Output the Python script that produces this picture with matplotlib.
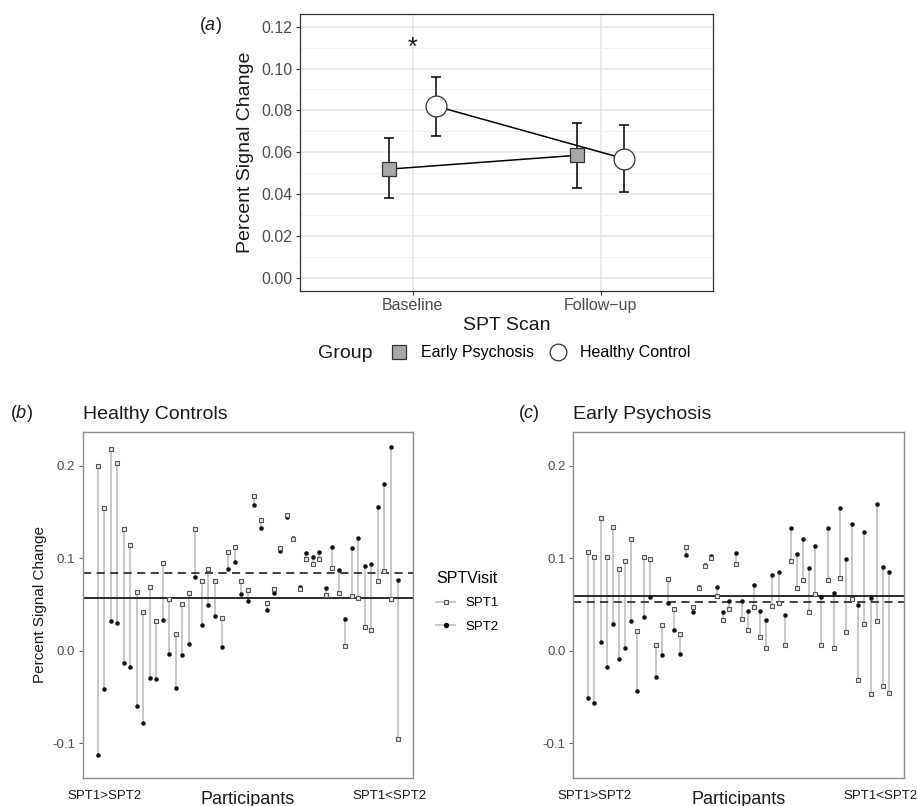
import numpy as np
import matplotlib

matplotlib.use("Agg")
import matplotlib.pyplot as plt
from matplotlib.lines import Line2D

plt.rcParams["font.family"] = ["Liberation Sans", "DejaVu Sans"]
plt.rcParams["mathtext.fontset"] = "custom"
plt.rcParams["mathtext.rm"] = "Liberation Sans"
plt.rcParams["mathtext.it"] = "Liberation Sans:italic"

# ---- panel (a): group means with error bars ----
scans = ["Baseline", "Follow\u2212up"]
ep_mean = [0.052, 0.0586]
ep_lo = [0.038, 0.043]
ep_hi = [0.067, 0.074]
hc_mean = [0.082, 0.057]
hc_lo = [0.068, 0.041]
hc_hi = [0.096, 0.073]

# ---- panels (b), (c): per-participant values, sorted by SPT1-SPT2 ----
hc_spt1 = [0.200, 0.154, 0.218, 0.203, 0.132, 0.114, 0.064, 0.042, 0.069, 0.032,
           0.095, 0.056, 0.018, 0.051, 0.063, 0.132, 0.076, 0.088, 0.075, 0.035,
           0.107, 0.112, 0.076, 0.066, 0.167, 0.141, 0.052, 0.067, 0.111, 0.147,
           0.121, 0.067, 0.099, 0.094, 0.099, 0.060, 0.090, 0.063, 0.005, 0.059,
           0.057, 0.026, 0.022, 0.076, 0.086, 0.056, -0.095]
hc_spt2 = [-0.113, -0.041, 0.032, 0.030, -0.013, -0.018, -0.060, -0.078, -0.029, -0.031,
           0.033, -0.003, -0.040, -0.005, 0.007, 0.080, 0.028, 0.050, 0.038, 0.004,
           0.089, 0.096, 0.062, 0.054, 0.158, 0.133, 0.044, 0.063, 0.108, 0.145,
           0.122, 0.069, 0.106, 0.102, 0.107, 0.068, 0.112, 0.087, 0.034, 0.111,
           0.122, 0.092, 0.094, 0.156, 0.180, 0.220, 0.077]
ep_spt1 = [0.107, 0.101, 0.144, 0.102, 0.134, 0.088, 0.097, 0.121, 0.021, 0.101,
           0.099, 0.006, 0.028, 0.078, 0.045, 0.018, 0.112, 0.047, 0.068, 0.092,
           0.100, 0.059, 0.033, 0.045, 0.094, 0.034, 0.023, 0.047, 0.015, 0.003,
           0.049, 0.052, 0.006, 0.097, 0.068, 0.077, 0.042, 0.062, 0.006, 0.077,
           0.003, 0.079, 0.020, 0.056, -0.032, 0.029, -0.047, 0.032, -0.038, -0.046]
ep_spt2 = [-0.051, -0.056, 0.010, -0.018, 0.029, -0.009, 0.003, 0.032, -0.043, 0.037,
           0.058, -0.028, -0.004, 0.052, 0.023, -0.003, 0.104, 0.042, 0.069, 0.093,
           0.103, 0.069, 0.042, 0.054, 0.106, 0.054, 0.043, 0.071, 0.043, 0.033,
           0.082, 0.085, 0.039, 0.133, 0.105, 0.121, 0.090, 0.113, 0.058, 0.133,
           0.063, 0.155, 0.099, 0.137, 0.050, 0.128, 0.057, 0.159, 0.091, 0.085]

W, H = 917, 806
TXT = "#1a1a1a"
TICK = "#4d4d4d"
SEG = "#c4c4c4"
SQ_MS, DOT_MS = 3.3, 2.9


def fx(px):
    return px / W


def fy(py):
    return 1 - py / H


fig = plt.figure(figsize=(W / 100, H / 100), dpi=100)
fig.patch.set_facecolor("white")

# ================= panel (a) =================
ax = fig.add_axes([fx(300), fy(290.7), fx(713.3) - fx(300), fy(14) - fy(290.7)])
ax.set_xlim(0.4, 2.6)
ax.set_ylim(-0.006, 0.126)
ax.set_yticks(np.arange(0, 0.121, 0.02))
ax.set_yticks(np.arange(0.01, 0.121, 0.02), minor=True)
ax.set_yticklabels([f"{v:.2f}" for v in np.arange(0, 0.121, 0.02)])
ax.set_xticks([1, 2])
ax.set_xticklabels(scans)
ax.grid(True, which="major", color="#e6e6e6", lw=1.1, zorder=0)
ax.grid(True, which="minor", axis="y", color="#efefef", lw=0.6, zorder=0)
ax.set_axisbelow(True)
for s in ax.spines.values():
    s.set_color("#333333")
    s.set_linewidth(0.9)
ax.tick_params(which="major", length=3, width=0.8, color="#333333", pad=2.5,
               labelsize=11.5, labelcolor=TICK)
ax.tick_params(which="minor", length=0)

xpos = np.arange(len(scans)) + 1
dodge = 0.125
for xs, m, lo, hi, mk, ms, fc in [
        (xpos - dodge, ep_mean, ep_lo, ep_hi, "s", 10, "#a8a8a8"),
        (xpos + dodge, hc_mean, hc_lo, hc_hi, "o", 15, "white")]:
    m = np.array(m)
    err = [m - np.array(lo), np.array(hi) - m]
    ax.errorbar(xs, m, yerr=err, fmt="none", ecolor="black", elinewidth=1.1,
                capsize=3.8, capthick=1.1, zorder=2)
    ax.plot(xs, m, "-", color="black", lw=1.1, zorder=3)
    ax.plot(xs, m, mk, ms=ms, mfc=fc, mec="#333333", mew=0.9, zorder=4)
ax.text(1, 0.110, "*", fontsize=18, ha="center", va="center", color=TXT)

fig.text(fx(245), fy(152.5), "Percent Signal Change", rotation=90, fontsize=14,
         ha="center", va="center", color=TXT)
fig.text(fx(506.7), fy(325), "SPT Scan", fontsize=14, ha="center", va="center", color=TXT)
fig.text(fx(199), fy(26), r"($\it{a}$)", fontsize=13, ha="left", va="center", color=TXT)

fig.text(fx(318), fy(353), "Group", fontsize=14, ha="left", va="center", color=TXT)
grp_handles = [
    Line2D([], [], ls="none", marker="s", ms=10, mfc="#a8a8a8", mec="#333333", mew=0.9),
    Line2D([], [], ls="none", marker="o", ms=12, mfc="white", mec="#333333", mew=0.9),
]
fig.legend(grp_handles, ["Early Psychosis", "Healthy Control"], ncol=2,
           loc="center left", bbox_to_anchor=(fx(389), fy(353)), frameon=False,
           borderpad=0, borderaxespad=0, handlelength=1.2, handletextpad=0.8,
           columnspacing=0.9, fontsize=11.5)


# ================= panels (b) and (c) =================
def lollipop(ax, spt1, spt2, title, tag, tag_x, ylabel):
    n = len(spt1)
    x = np.arange(1, n + 1)
    pad = 0.05 * (n - 1)
    ax.set_xlim(1 - pad, n + pad)
    ax.set_ylim(-0.137, 0.237)
    ax.vlines(x, spt1, spt2, color=SEG, lw=1.3, zorder=1)
    ax.axhline(np.mean(spt1), color="#333333", lw=1.3, ls=(0, (4.5, 3)), zorder=2)
    ax.axhline(np.mean(spt2), color="#1a1a1a", lw=1.3, zorder=2)
    ax.plot(x, spt2, "o", ms=DOT_MS, mfc="#111111", mec="#111111", mew=0.3, zorder=3)
    ax.plot(x, spt1, "s", ms=SQ_MS, mfc="#e6e6e6", mec="#555555", mew=0.8, zorder=4)
    yt = [-0.1, 0.0, 0.1, 0.2]
    ax.set_yticks(yt)
    ax.set_yticklabels([f"{v:.1f}" for v in yt])
    lo, hi = ax.get_xlim()
    ax.set_xticks([lo + 0.065 * (hi - lo), lo + 0.93 * (hi - lo)])
    ax.set_xticklabels(["SPT1>SPT2", "SPT1<SPT2"])
    ax.tick_params(axis="x", length=0, pad=9, labelsize=9.5, labelcolor=TXT)
    ax.tick_params(axis="y", length=3, width=0.8, color="#666666", pad=2.5,
                   labelsize=9.5, labelcolor=TICK)
    for s in ax.spines.values():
        s.set_color("#8c8c8c")
        s.set_linewidth(1.0)
    ax.set_title(title, loc="left", fontsize=14, pad=9, color=TXT)
    bb = ax.get_position()
    fig.text(fx(tag_x), fy(413), tag, fontsize=13, ha="left", va="center", color=TXT)
    fig.text((bb.x0 + bb.x1) / 2, fy(799), "Participants", fontsize=13,
             ha="center", va="center", color=TXT)
    if ylabel:
        fig.text(fx(40), (bb.y0 + bb.y1) / 2, "Percent Signal Change", rotation=90,
                 fontsize=11, ha="center", va="center", color=TXT)


axb = fig.add_axes([fx(82.7), fy(777.5), fx(412.5) - fx(82.7), fy(431.7) - fy(777.5)])
lollipop(axb, hc_spt1, hc_spt2, "Healthy Controls", r"($\it{b}$)", 10, True)
axc = fig.add_axes([fx(573.3), fy(777.5), fx(904) - fx(573.3), fy(431.7) - fy(777.5)])
lollipop(axc, ep_spt1, ep_spt2, "Early Psychosis", r"($\it{c}$)", 518, False)

visit_handles = [
    Line2D([], [], color=SEG, lw=1.3, marker="s", ms=SQ_MS, mfc="#e6e6e6",
           mec="#555555", mew=0.8),
    Line2D([], [], color=SEG, lw=1.3, marker="o", ms=DOT_MS, mfc="#111111",
           mec="#111111"),
]
leg = fig.legend(visit_handles, ["SPT1", "SPT2"], title="SPTVisit", loc="upper left",
                 bbox_to_anchor=(fx(436), fy(571)), frameon=False, borderpad=0,
                 borderaxespad=0, handlelength=1.45, handletextpad=0.8,
                 labelspacing=0.85, fontsize=9.5, title_fontsize=11.5, alignment="left")

fig.savefig("out.png", dpi=100, facecolor="white")
